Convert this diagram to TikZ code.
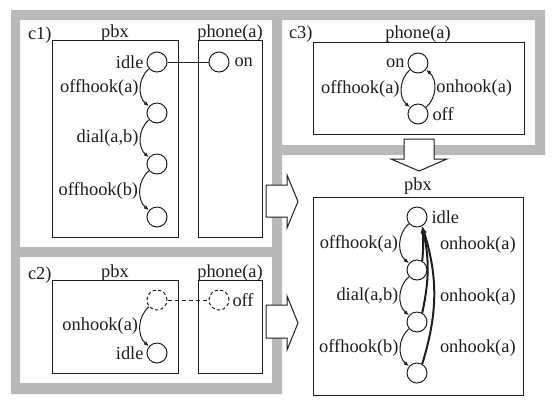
\documentclass[tikz,border=0pt]{standalone}
\usepackage{fontspec}
\setmainfont{Liberation Serif}
\usetikzlibrary{positioning, arrows.meta, calc}

\tikzset{
  loc/.style={circle, draw=drawColor, line width=0.5pt, minimum size=10pt, inner sep=0pt},
  ghost/.style={loc, dash pattern=on 1.6pt off 1.2pt},
  txt/.style={text=drawColor, inner sep=0pt, outer sep=0pt, font=\fontsize{9.2}{11}\selectfont},
  box/.style={draw=drawColor, line width=0.5pt},
  trans/.style={draw=drawColor, line width=0.5pt, -{Latex[length=2.6pt,width=2pt]}},
  back/.style={draw=drawColor, line width=1pt, -{Latex[length=3.6pt,width=2.6pt]}},
  bigarrow/.style={draw=drawColor, line width=0.5pt, fill=white, line join=miter}
}

\begin{document}
\begin{tikzpicture}[x=0.5pt,y=-0.5pt]
\definecolor{drawColor}{RGB}{30,30,30}
\definecolor{frameColor}{RGB}{185,185,185}
\path[use as bounding box,fill=white] (0,0) rectangle (556,409);

\path[fill=frameColor,even odd rule] (11,10) -- (545,10) -- (545,155) -- (282,155) -- (282,394) -- (11,394) -- cycle
  (20,20) rectangle (272,247)
  (20,257) rectangle (272,383)
  (282,20) rectangle (535,145);

\node[txt,anchor=base west] (c1) at (28,39) {c1)};
\draw[box] (52,40) rectangle (178,237);
\node[txt,anchor=base] (pbx1) at (115,37) {pbx};
\draw[box] (198,40) rectangle (262,237);
\node[txt,anchor=base] (phone1) at (230,37) {phone(a)};

\node[loc] (a1) at (157,62) {};
\node[loc] (a2) at (157,113) {};
\node[loc] (a3) at (157,164) {};
\node[loc] (a4) at (157,217) {};
\node[txt,left=1.5pt of a1] (a1t) {idle};
\node[loc] (on1) at (219,62) {};
\node[txt,right=2.5pt of on1] (on1t) {on};
\draw[box] (a1) -- (on1);
\draw[trans] (a1) to[bend right=50] node[txt,left=1pt] {offhook(a)} (a2);
\draw[trans] (a2) to[bend right=50] node[txt,left=1pt] {dial(a,b)} (a3);
\draw[trans] (a3) to[bend right=50] node[txt,left=1pt] {offhook(b)} (a4);

\node[txt,anchor=base west] (c2) at (28,279) {c2)};
\draw[box] (52,280) rectangle (178,373);
\node[txt,anchor=base] (pbx2) at (115,277) {pbx};
\draw[box] (198,280) rectangle (262,373);
\node[txt,anchor=base] (phone2) at (230,277) {phone(a)};

\node[ghost] (b1) at (157,300) {};
\node[loc] (b2) at (157,353) {};
\node[txt,left=1.5pt of b2] (b2t) {idle};
\node[ghost] (off2) at (219,300) {};
\node[txt,right=1.5pt of off2] (off2t) {off};
\draw[box,dash pattern=on 2pt off 1.5pt] (b1) -- (off2);
\draw[trans] (b1) to[bend right=50] node[txt,left=1pt] {onhook(a)} (b2);

\node[txt,anchor=base west] (c3) at (289,38) {c3)};
\draw[box] (313,42) rectangle (524,134);
\node[txt,anchor=base] (phone3) at (418,38) {phone(a)};

\node[loc] (on3) at (418,63) {};
\node[loc] (off3) at (418,114) {};
\node[txt,left=1.5pt of on3] (on3t) {on};
\node[txt,right=2pt of off3] (off3t) {off};
\draw[trans] (on3) to[bend right=50] node[txt,left=1pt] {offhook(a)} (off3);
\draw[trans] (off3) to[bend right=50] node[txt,right=1pt] {onhook(a)} (on3);

\draw[box] (313,197) rectangle (523,395);
\node[txt,anchor=base] (pbx4) at (418,190) {pbx};

\node[loc] (p1) at (417,217) {};
\node[loc] (p2) at (417,270) {};
\node[loc] (p3) at (417,322) {};
\node[loc] (p4) at (417,373) {};
\node[txt,right=2pt of p1] (p1t) {idle};
\draw[trans] (p1) to[bend right=50] node[txt,left=1pt] {offhook(a)} (p2);
\draw[trans] (p2) to[bend right=50] node[txt,left=1pt] {dial(a,b)} (p3);
\draw[trans] (p3) to[bend right=50] node[txt,left=1pt] {offhook(b)} (p4);
\draw[back] (p2.60) to[bend right=5] (p1.-60);
\draw[back] (p3.60) to[bend right=12] (p1.-60);
\draw[back] (p4.60) to[bend right=17] (p1.-60);
\node[txt,anchor=west] (r1) at (440,245) {onhook(a)};
\node[txt,anchor=west] (r2) at (440,297) {onhook(a)};
\node[txt,anchor=west] (r3) at (440,348) {onhook(a)};

\path[bigarrow] (266,185) -- (287,185) -- (287,175) -- (298,201.5) -- (287,228) -- (287,217) -- (266,217) -- cycle;
\path[bigarrow] (266,305) -- (287,305) -- (287,296) -- (298,323) -- (287,350) -- (287,338) -- (266,338) -- cycle;
\path[bigarrow] (404,139) -- (434,139) -- (434,159) -- (447,159) -- (419,171) -- (391,159) -- (404,159) -- cycle;
\end{tikzpicture}
\end{document}
